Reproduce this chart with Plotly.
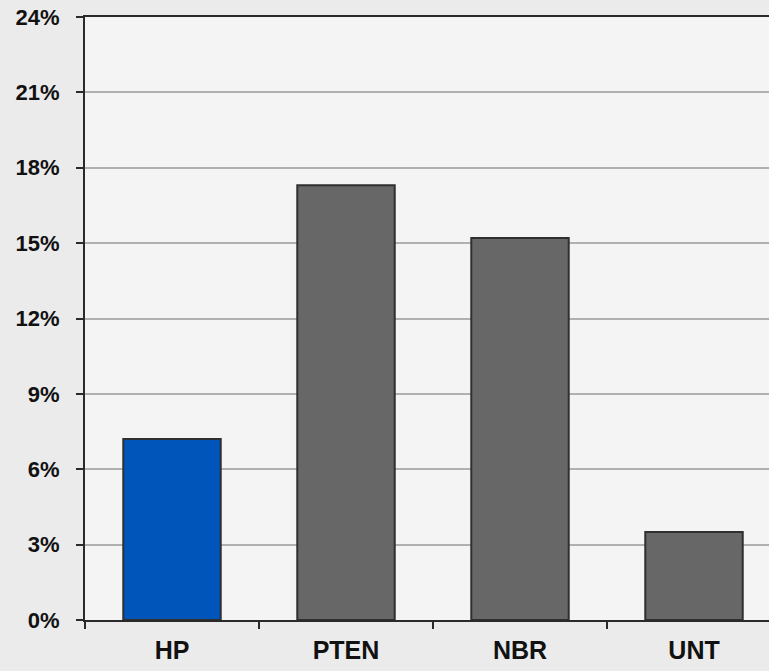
import plotly.graph_objects as go

categories = ["HP", "PTEN", "NBR", "UNT"]
values = [7.2, 17.3, 15.2, 3.5]
bar_colors = ["#0055BB", "#676767", "#676767", "#676767"]
y_ticks = [0, 3, 6, 9, 12, 15, 18, 21, 24]
y_tick_labels = [f"{v}%" for v in y_ticks]

fig = go.Figure()
fig.add_trace(go.Bar(
    x=categories,
    y=values,
    marker=dict(color=bar_colors, line=dict(color="#2f2f2f", width=2)),
    width=0.56,
))

fig.update_layout(
    width=769, height=671,
    margin=dict(l=85, r=0, t=17, b=51),
    paper_bgcolor="#ebebeb",
    plot_bgcolor="#f4f4f4",
    showlegend=False,
    font=dict(family="Liberation Sans, Arial, sans-serif", color="#1a1a1a"),
)
fig.update_xaxes(
    type="category",
    range=[-0.5, 3.431],
    showline=True, linecolor="#2a2a2a", linewidth=2,
    mirror=True,
    ticks="outside", tickson="boundaries", ticklen=7, tickwidth=2, tickcolor="#2a2a2a",
    tickfont=dict(size=25, weight="bold", color="#111111"),
    ticklabelstandoff=7,
    showgrid=False,
)
fig.update_yaxes(
    range=[0, 24],
    tickvals=y_ticks, ticktext=y_tick_labels,
    showline=True, linecolor="#2a2a2a", linewidth=2,
    ticks="outside", ticklen=7, tickwidth=2, tickcolor="#2a2a2a",
    tickfont=dict(size=22, weight="bold", color="#111111"),
    ticklabelstandoff=12,
    showgrid=True, gridcolor="#b0b0b0", gridwidth=2,
    zeroline=False,
)

fig.write_html(
    "out.html",
    config={"displayModeBar": False},
    post_script="document.body.style.margin='0';document.body.style.background='#ebebeb';",
)
